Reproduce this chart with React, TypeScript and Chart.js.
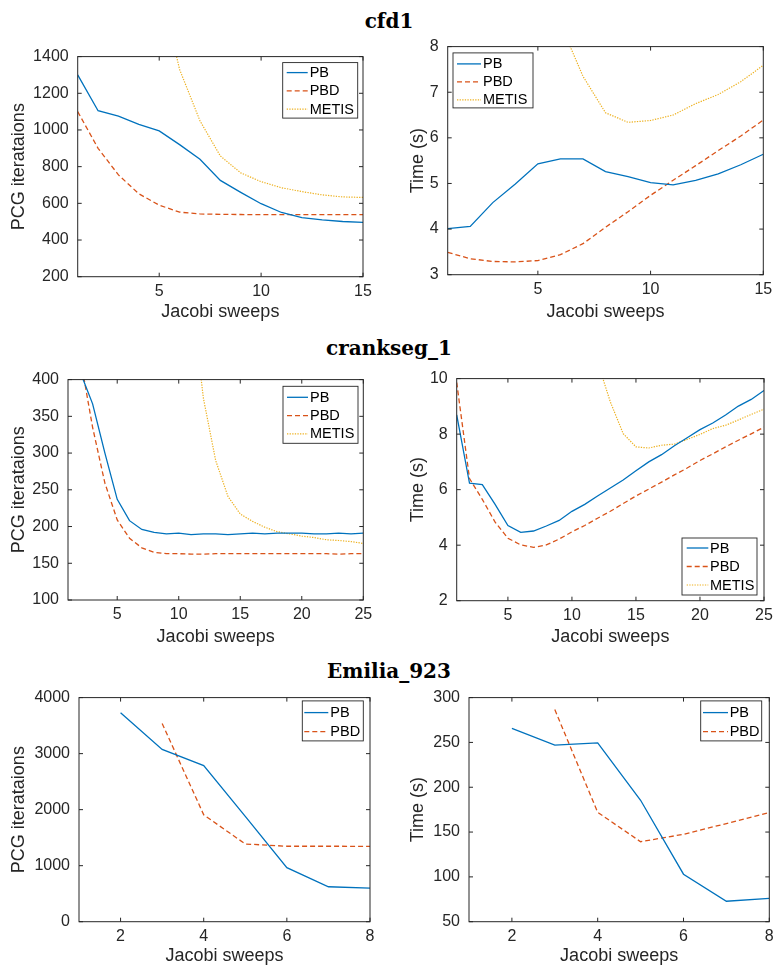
import React, { useEffect, useRef } from 'react';
import { Chart, registerables } from 'chart.js';

Chart.register(...registerables);

const BLUE = '#0072BD';
const RED = '#D95319';
const YELLOW = '#EDB120';
const INK = '#262626';
const SANS = '"Liberation Sans", Arial, Helvetica, sans-serif';

// ---------- cfd1 ----------
const cfd1Sweeps = [1, 2, 3, 4, 5, 6, 7, 8, 9, 10, 11, 12, 13, 14, 15];
const cfd1IterPB = [1300, 1105, 1075, 1030, 995, 920, 840, 725, 660, 598, 550, 522, 510, 501, 496];
const cfd1IterPBD = [1100, 900, 755, 652, 590, 552, 542, 540, 539, 538, 538, 538, 538, 538, 538];
const cfd1IterMETIS = [null, null, null, null, 1800, 1330, 1050, 858, 766, 718, 685, 664, 646, 635, 632];
const cfd1TimePB = [4.01, 4.06, 4.58, 4.99, 5.43, 5.54, 5.54, 5.26, 5.15, 5.02, 4.97, 5.07, 5.21, 5.41, 5.64];
const cfd1TimePBD = [3.49, 3.35, 3.29, 3.28, 3.31, 3.44, 3.68, 4.04, 4.38, 4.74, 5.07, 5.39, 5.72, 6.04, 6.39];
const cfd1TimeMETIS = [null, null, null, null, 10.0, 8.5, 7.35, 6.55, 6.34, 6.38, 6.5, 6.75, 6.95, 7.23, 7.59];

// ---------- crankseg_1 ----------
const crankSweeps = [1, 2, 3, 4, 5, 6, 7, 8, 9, 10, 11, 12, 13, 14, 15, 16, 17, 18, 19, 20, 21, 22, 23, 24, 25];
const crankIterPB = [600, 410, 367, 300, 237, 208, 196, 192, 190, 191, 189, 190, 190, 189, 190, 191, 190, 191, 191, 191, 190, 190, 191, 190, 191];
const crankIterPBD = [620, 430, 335, 259, 209, 184, 171, 165, 163, 163, 162.5, 162.5, 163, 163, 163, 163, 163, 163, 163, 163, 163, 163, 162.5, 163, 163];
const crankIterMETIS = [null, null, null, null, null, null, null, null, null, null, 520, 375, 290, 241, 217, 207, 199, 193, 190, 187, 185, 182, 181, 179.5, 177];
const crankTimePB = [8.69, 6.23, 6.18, 5.47, 4.71, 4.46, 4.51, 4.69, 4.89, 5.22, 5.47, 5.77, 6.06, 6.35, 6.68, 7.0, 7.26, 7.58, 7.87, 8.16, 8.4, 8.69, 9.01, 9.25, 9.57];
const crankTimePBD = [9.86, 6.4, 5.65, 4.83, 4.25, 4.01, 3.92, 4.01, 4.22, 4.48, 4.71, 4.97, 5.22, 5.5, 5.77, 6.02, 6.27, 6.53, 6.78, 7.05, 7.29, 7.54, 7.78, 8.01, 8.25];
const crankTimeMETIS = [null, null, null, null, null, null, null, null, null, null, 12.0, 10.6, 9.16, 8.02, 7.54, 7.5, 7.6, 7.64, 7.81, 7.99, 8.2, 8.32, 8.51, 8.71, 8.9];

// ---------- Emilia_923 ----------
const emiliaSweeps = [1, 2, 3, 4, 5, 6, 7, 8];
const emiliaIterPB = [null, 3730, 3075, 2786, 1880, 965, 624, 601];
const emiliaIterPBD = [null, null, 3538, 1908, 1387, 1347, 1347, 1345];
const emiliaTimePB = [null, 265.7, 246.9, 249.4, 185.5, 103, 72.8, 76];
const emiliaTimePBD = [null, null, 286.6, 172, 139.2, 147.5, 159.5, 171.7];

// ---------- ticks ----------
const ticksX15 = [5, 10, 15];
const ticksX25 = [5, 10, 15, 20, 25];
const ticksX8 = [2, 4, 6, 8];
const ticksCfdIter = [200, 400, 600, 800, 1000, 1200, 1400];
const ticksCfdTime = [3, 4, 5, 6, 7, 8];
const ticksCrankIter = [100, 150, 200, 250, 300, 350, 400];
const ticksCrankTime = [2, 4, 6, 8, 10];
const ticksEmiliaIter = [0, 1000, 2000, 3000, 4000];
const ticksEmiliaTime = [50, 100, 150, 200, 250, 300];

const titles = [
  { text: 'cfd1', baseline: 28 },
  { text: 'crankseg_1', baseline: 355 },
  { text: 'Emilia_923', baseline: 678 },
];

const STYLE = {
  PB: { color: BLUE, width: 1.3, dash: [] as number[] },
  PBD: { color: RED, width: 1.3, dash: [5, 3] },
  METIS: { color: YELLOW, width: 1.2, dash: [1.3, 1.3] },
};

type Series = { label: 'PB' | 'PBD' | 'METIS'; ys: (number | null)[] };
type Panel = {
  plot: { L: number; T: number; R: number; B: number };
  yTitleX: number;
  xTitleY: number;
  xs: number[];
  xMin: number; xMax: number; yMin: number; yMax: number;
  xTicks: number[]; yTicks: number[];
  yTitle: string;
  series: Series[];
  legend: { anchor: string; mx: number; my: number; w: number; h: number; line0: number; line1: number; text: number; row0: number; dy: number };
};

const panels: Panel[] = [
  {
    plot: { L: 77.7, T: 50.7, R: 363, B: 276.7 }, yTitleX: 19, xTitleY: 312,
    xs: cfd1Sweeps, xMin: 1, xMax: 15, yMin: 200, yMax: 1400, xTicks: ticksX15, yTicks: ticksCfdIter,
    yTitle: 'PCG iterataions',
    series: [{ label: 'PB', ys: cfd1IterPB }, { label: 'PBD', ys: cfd1IterPBD }, { label: 'METIS', ys: cfd1IterMETIS }],
    legend: { anchor: 'ne', mx: 5.3, my: 6, w: 75, h: 55.5, line0: 4, line1: 25, text: 27, row0: 10, dy: 18.3 },
  },
  {
    plot: { L: 447.7, T: 40.7, R: 763.3, B: 274.7 }, yTitleX: 418, xTitleY: 312,
    xs: cfd1Sweeps, xMin: 1, xMax: 15, yMin: 3, yMax: 8, xTicks: ticksX15, yTicks: ticksCfdTime,
    yTitle: 'Time (s)',
    series: [{ label: 'PB', ys: cfd1TimePB }, { label: 'PBD', ys: cfd1TimePBD }, { label: 'METIS', ys: cfd1TimeMETIS }],
    legend: { anchor: 'nw', mx: 5.3, my: 6.3, w: 80, h: 55, line0: 4, line1: 28, text: 30, row0: 11, dy: 18 },
  },
  {
    plot: { L: 68, T: 373.3, R: 363.3, B: 600 }, yTitleX: 19, xTitleY: 637,
    xs: crankSweeps, xMin: 1, xMax: 25, yMin: 100, yMax: 400, xTicks: ticksX25, yTicks: ticksCrankIter,
    yTitle: 'PCG iterataions',
    series: [{ label: 'PB', ys: crankIterPB }, { label: 'PBD', ys: crankIterPBD }, { label: 'METIS', ys: crankIterMETIS }],
    legend: { anchor: 'ne', mx: 5.3, my: 6.7, w: 75, h: 57, line0: 4, line1: 25, text: 27, row0: 11, dy: 18.3 },
  },
  {
    plot: { L: 456.7, T: 372.7, R: 764, B: 600.7 }, yTitleX: 418, xTitleY: 637,
    xs: crankSweeps, xMin: 1, xMax: 25, yMin: 2, yMax: 10, xTicks: ticksX25, yTicks: ticksCrankTime,
    yTitle: 'Time (s)',
    series: [{ label: 'PB', ys: crankTimePB }, { label: 'PBD', ys: crankTimePBD }, { label: 'METIS', ys: crankTimeMETIS }],
    legend: { anchor: 'se', mx: 7, my: 5.7, w: 75, h: 57, line0: 4.7, line1: 26.3, text: 28, row0: 10, dy: 18.5 },
  },
  {
    plot: { L: 79, T: 691, R: 370, B: 921.7 }, yTitleX: 19, xTitleY: 956.5,
    xs: emiliaSweeps, xMin: 1, xMax: 8, yMin: 0, yMax: 4000, xTicks: ticksX8, yTicks: ticksEmiliaIter,
    yTitle: 'PCG iterataions',
    series: [{ label: 'PB', ys: emiliaIterPB }, { label: 'PBD', ys: emiliaIterPBD }],
    legend: { anchor: 'ne', mx: 6.7, my: 3.3, w: 61, h: 40, line0: 2, line1: 26, text: 28, row0: 11.7, dy: 19 },
  },
  {
    plot: { L: 469, T: 691, R: 769.3, B: 921.7 }, yTitleX: 418, xTitleY: 956.5,
    xs: emiliaSweeps, xMin: 1, xMax: 8, yMin: 50, yMax: 300, xTicks: ticksX8, yTicks: ticksEmiliaTime,
    yTitle: 'Time (s)',
    series: [{ label: 'PB', ys: emiliaTimePB }, { label: 'PBD', ys: emiliaTimePBD }],
    legend: { anchor: 'ne', mx: 7.6, my: 3.3, w: 61, h: 40, line0: 2.3, line1: 27.3, text: 29, row0: 11.7, dy: 19 },
  },
];

const framePlugin = {
  id: 'matlabFrame',
  afterDatasetsDraw(chart: any) {
    const { ctx, chartArea, scales } = chart;
    const { left, top, right, bottom } = chartArea;
    const tl = 4;
    ctx.save();
    ctx.strokeStyle = INK;
    ctx.lineWidth = 1;
    ctx.setLineDash([]);
    ctx.strokeRect(left, top, right - left, bottom - top);
    ctx.beginPath();
    for (const t of scales.x.ticks) {
      const px = scales.x.getPixelForValue(t.value);
      ctx.moveTo(px, bottom); ctx.lineTo(px, bottom - tl);
      ctx.moveTo(px, top); ctx.lineTo(px, top + tl);
    }
    for (const t of scales.y.ticks) {
      const py = scales.y.getPixelForValue(t.value);
      ctx.moveTo(left, py); ctx.lineTo(left + tl, py);
      ctx.moveTo(right, py); ctx.lineTo(right - tl, py);
    }
    ctx.stroke();
    ctx.restore();
  },
};

const legendPlugin = {
  id: 'matlabLegend',
  afterDraw(chart: any, _args: any, lg: any) {
    if (!lg || !lg.w) return;
    const { ctx, chartArea: ca } = chart;
    const bx = lg.anchor.includes('w') ? ca.left + lg.mx : ca.right - lg.mx - lg.w;
    const by = lg.anchor.includes('s') ? ca.bottom - lg.my - lg.h : ca.top + lg.my;
    ctx.save();
    ctx.fillStyle = '#ffffff';
    ctx.fillRect(bx, by, lg.w, lg.h);
    ctx.strokeStyle = INK;
    ctx.lineWidth = 0.9;
    ctx.setLineDash([]);
    ctx.strokeRect(bx, by, lg.w, lg.h);
    chart.data.datasets.forEach((ds: any, i: number) => {
      const yy = by + lg.row0 + i * lg.dy;
      ctx.beginPath();
      ctx.setLineDash(ds.borderDash || []);
      ctx.strokeStyle = ds.borderColor;
      ctx.lineWidth = ds.borderWidth;
      ctx.moveTo(bx + lg.line0, yy);
      ctx.lineTo(bx + lg.line1, yy);
      ctx.stroke();
      ctx.setLineDash([]);
      ctx.fillStyle = '#000000';
      ctx.font = `14.5px ${SANS}`;
      ctx.textBaseline = 'middle';
      ctx.textAlign = 'left';
      ctx.fillText(ds.label, bx + lg.text, yy + 0.5);
    });
    ctx.restore();
  },
};

const HALF_TITLE = 10.8; // half line height of 18px axis title

function PanelChart({ p }: { p: Panel }) {
  const ref = useRef<HTMLCanvasElement | null>(null);
  const Lc = Math.round(p.yTitleX - HALF_TITLE);
  const Tc = Math.floor(p.plot.T - 12);
  const W = Math.ceil(p.plot.R + 20 - Lc);
  const H = Math.round(p.xTitleY + HALF_TITLE - Tc);
  const yAxisW = p.plot.L - Lc;
  const xAxisH = Tc + H - p.plot.B;
  const padTop = p.plot.T - Tc;
  const padRight = Lc + W - p.plot.R;

  useEffect(() => {
    if (!ref.current) return;
    const chart = new Chart(ref.current, {
      type: 'line',
      data: {
        datasets: p.series.map((s) => ({
          label: s.label,
          data: p.xs.map((x, i) => ({ x, y: s.ys[i] })),
          borderColor: STYLE[s.label].color,
          backgroundColor: STYLE[s.label].color,
          borderWidth: STYLE[s.label].width,
          borderDash: STYLE[s.label].dash,
          pointRadius: 0,
          tension: 0,
          fill: false,
          spanGaps: false,
          clip: 0,
        })),
      },
      options: {
        animation: false,
        responsive: false,
        devicePixelRatio: 1,
        events: [],
        layout: { padding: { left: 0, top: padTop, right: padRight, bottom: 0 } },
        plugins: {
          legend: { display: false },
          tooltip: { enabled: false },
          title: { display: false },
          matlabLegend: p.legend,
        } as any,
        scales: {
          x: {
            type: 'linear',
            min: p.xMin,
            max: p.xMax,
            grid: { display: false, drawTicks: false },
            border: { display: false },
            ticks: {
              color: INK,
              font: { family: SANS, size: 16 },
              padding: 5,
              maxRotation: 0,
              autoSkip: false,
              callback: (v: any) => String(v),
            },
            title: {
              display: true,
              text: 'Jacobi sweeps',
              color: INK,
              font: { family: SANS, size: 18 },
              padding: 0,
            },
            afterBuildTicks: (s: any) => { s.ticks = p.xTicks.map((v) => ({ value: v })); },
            afterFit: (s: any) => { s.height = xAxisH; },
          },
          y: {
            type: 'linear',
            min: p.yMin,
            max: p.yMax,
            grid: { display: false, drawTicks: false },
            border: { display: false },
            ticks: {
              color: INK,
              font: { family: SANS, size: 16 },
              padding: 9,
              autoSkip: false,
              callback: (v: any) => String(v),
            },
            title: {
              display: true,
              text: p.yTitle,
              color: INK,
              font: { family: SANS, size: 18 },
              padding: 0,
            },
            afterBuildTicks: (s: any) => { s.ticks = p.yTicks.map((v) => ({ value: v })); },
            afterFit: (s: any) => { s.width = yAxisW; },
          },
        } as any,
      },
      plugins: [framePlugin, legendPlugin],
    } as any);
    return () => chart.destroy();
  }, []);

  return (
    <div style={{ position: 'absolute', left: Lc, top: Tc, width: W, height: H }}>
      <canvas ref={ref} width={W} height={H} style={{ display: 'block', width: W, height: H }} />
    </div>
  );
}

export default function App() {
  return (
    <div style={{ position: 'absolute', left: 0, top: 0, width: 774, height: 973, overflow: 'hidden', background: '#ffffff' }}>
      {titles.map((t) => (
        <div
          key={t.text}
          style={{
            position: 'absolute',
            left: 0,
            width: 778,
            top: t.baseline - 18.9,
            height: 24,
            lineHeight: '24px',
            textAlign: 'center',
            fontFamily: '"DejaVu Serif", serif',
            fontWeight: 'bold',
            fontSize: 20,
            color: '#000000',
            whiteSpace: 'nowrap',
          }}
        >
          {t.text}
        </div>
      ))}
      {panels.map((p, i) => (
        <PanelChart key={i} p={p} />
      ))}
    </div>
  );
}
